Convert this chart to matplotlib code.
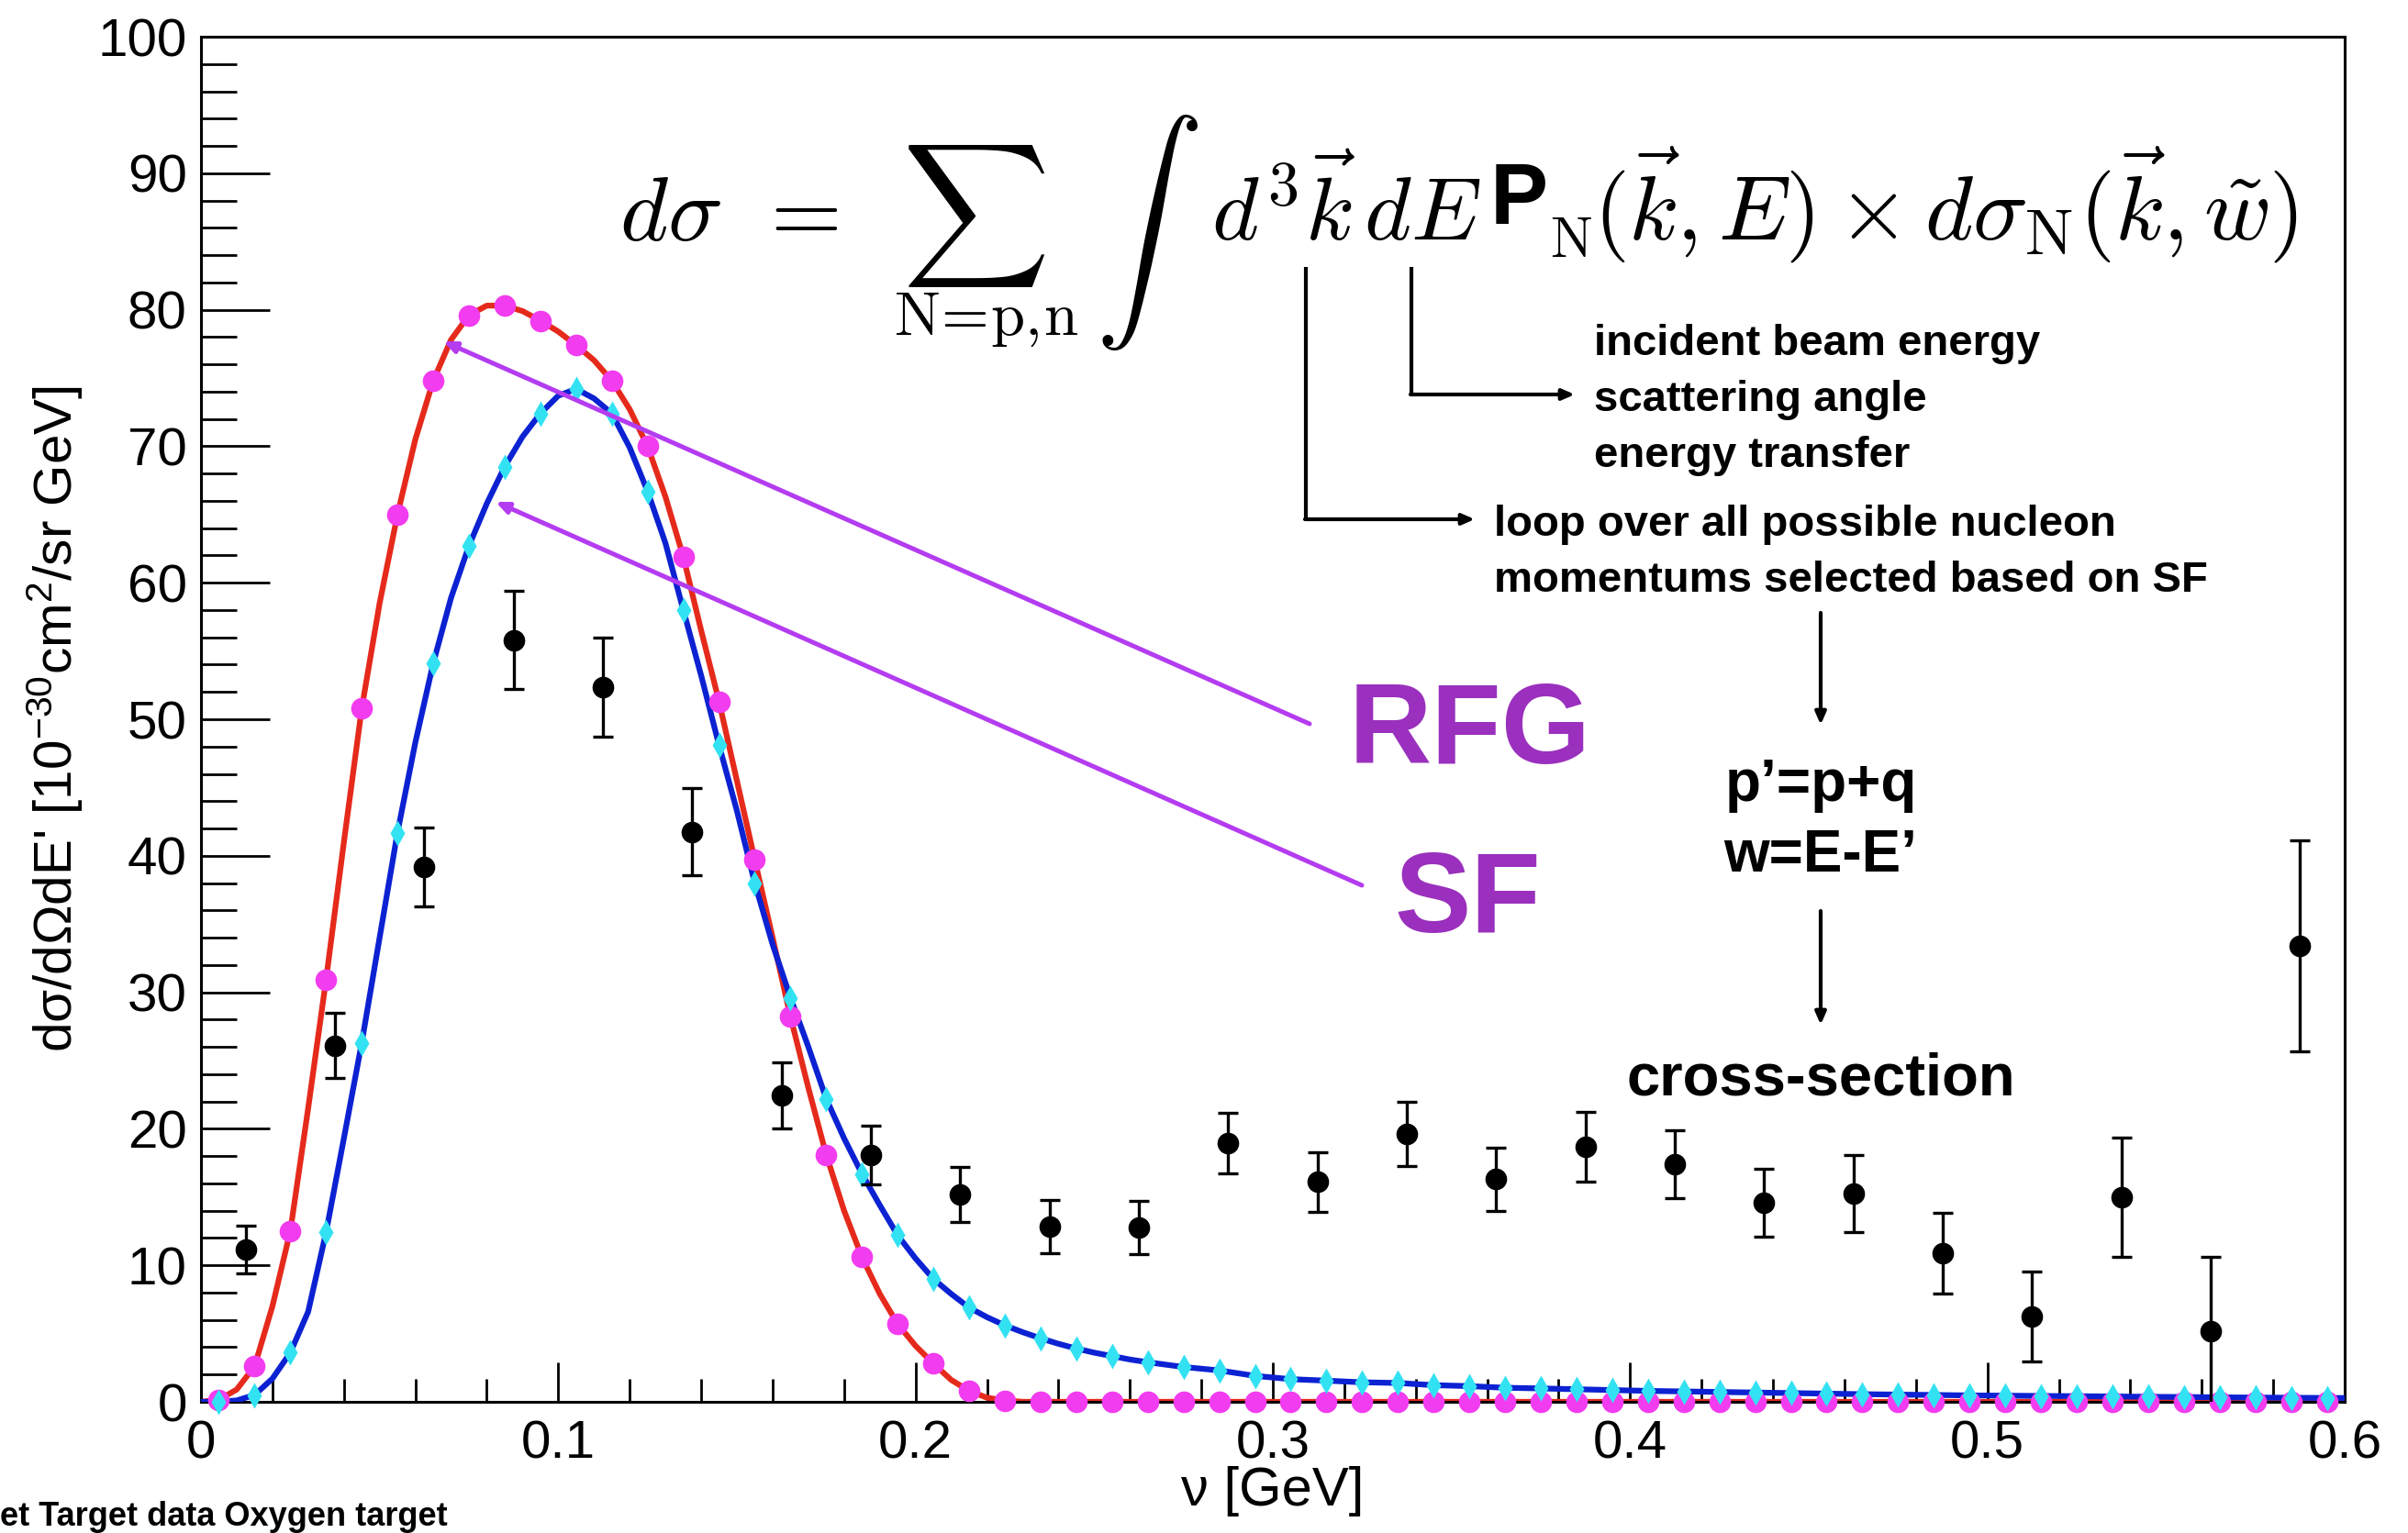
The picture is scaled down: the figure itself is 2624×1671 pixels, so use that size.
import matplotlib
matplotlib.use("Agg")
import matplotlib.pyplot as plt
import numpy as np

plt.rcParams["font.family"] = ["Liberation Sans", "DejaVu Sans"]
plt.rcParams["mathtext.fontset"] = "cm"

# ---- data ----
# curve grid: 0.005 steps over the peak, 0.01 steps (marker bins) in the tail
nu_curve = [0.000, 0.005, 0.010, 0.015, 0.020, 0.025, 0.030, 0.035, 0.040, 0.045,
            0.050, 0.055, 0.060, 0.065, 0.070, 0.075, 0.080, 0.085, 0.090, 0.095,
            0.100, 0.105, 0.110, 0.115, 0.120, 0.125, 0.130, 0.135, 0.140, 0.145,
            0.150, 0.155, 0.160, 0.165, 0.170, 0.175, 0.180, 0.185, 0.190, 0.195,
            0.200, 0.205, 0.210, 0.215, 0.220, 0.225, 0.230, 0.235, 0.240, 0.245,
            0.250, 0.255, 0.260, 0.265, 0.275, 0.285, 0.295, 0.305, 0.315, 0.325,
            0.335, 0.345, 0.355, 0.365, 0.375, 0.385, 0.395, 0.405, 0.415, 0.425,
            0.435, 0.445, 0.455, 0.465, 0.475, 0.485, 0.495, 0.505, 0.515, 0.525,
            0.535, 0.545, 0.555, 0.565, 0.575, 0.585, 0.595, 0.600]

rfg_curve = [0.0, 0.15, 0.9, 2.6, 7.0, 12.5, 21.5, 30.9, 41.0, 50.8,
             58.5, 65.0, 70.5, 74.8, 77.8, 79.6, 80.3, 80.3, 79.9, 79.2,
             78.4, 77.4, 76.3, 74.8, 72.7, 70.0, 66.3, 61.9, 56.5, 51.3,
             45.5, 39.7, 34.0, 28.2, 23.0, 18.1, 14.0, 10.6, 7.9, 5.7,
             4.1, 2.8, 1.6, 0.8, 0.3, 0.1, 0.0, 0.0, 0.0, 0.0,
             0.0, 0.0, 0.0, 0.0, 0.0, 0.0, 0.0, 0.0, 0.0, 0.0,
             0.0, 0.0, 0.0, 0.0, 0.0, 0.0, 0.0, 0.0, 0.0, 0.0,
             0.0, 0.0, 0.0, 0.0, 0.0, 0.0, 0.0, 0.0, 0.0, 0.0,
             0.0, 0.0, 0.0, 0.0, 0.0, 0.0, 0.0, 0.0]

sf_curve = [0.0, 0.0, 0.1, 0.5, 1.7, 3.6, 6.6, 12.4, 19.3, 26.3,
            34.0, 41.7, 48.3, 54.1, 58.9, 62.7, 65.8, 68.5, 70.7, 72.4,
            73.7, 74.2, 73.5, 72.4, 69.9, 66.7, 62.9, 58.0, 53.2, 48.1,
            43.3, 38.0, 33.5, 29.6, 26.0, 22.2, 19.3, 16.7, 14.4, 12.2,
            10.5, 9.0, 7.9, 6.9, 6.2, 5.6, 5.1, 4.65, 4.25, 3.9,
            3.6, 3.35, 3.1, 2.9, 2.55, 2.3, 1.9, 1.66, 1.55, 1.43,
            1.38, 1.22, 1.15, 1.03, 0.98, 0.92, 0.86, 0.80, 0.76, 0.72,
            0.68, 0.64, 0.60, 0.56, 0.53, 0.50, 0.47, 0.45, 0.43, 0.41,
            0.39, 0.37, 0.35, 0.33, 0.31, 0.30, 0.28, 0.28]

data_nu = [0.0125, 0.0375, 0.0625, 0.0875, 0.1125, 0.1375, 0.1625, 0.1875,
           0.2125, 0.2375, 0.2625, 0.2875, 0.3125, 0.3375, 0.3625, 0.3875,
           0.4125, 0.4375, 0.4625, 0.4875, 0.5125, 0.5375, 0.5625, 0.5875]
data_val = [11.15, 26.1, 39.2, 55.8, 52.35, 41.75, 22.45, 18.1,
            15.2, 12.85, 12.8, 18.95, 16.1, 19.6, 16.3, 18.7,
            17.4, 14.6, 15.25, 10.9, 6.25, 15.0, 5.15, 33.4]
data_err = [1.75, 2.4, 2.9, 3.6, 3.6, 3.2, 2.4, 2.15,
            2.0, 1.95, 1.95, 2.2, 2.2, 2.35, 2.3, 2.55,
            2.5, 2.5, 2.85, 2.95, 3.3, 4.35, 5.5, 7.7]

x_ticks = [0, 0.1, 0.2, 0.3, 0.4, 0.5, 0.6]
x_tick_labels = ["0", "0.1", "0.2", "0.3", "0.4", "0.5", "0.6"]
y_ticks = [0, 10, 20, 30, 40, 50, 60, 70, 80, 90, 100]

nu_curve = np.array(nu_curve)
rfg_curve = np.array(rfg_curve)
sf_curve = np.array(sf_curve)
# markers sit on the bin centres 0.005 + 0.01 k
on_bin = np.isclose(np.round(nu_curve * 1000) % 10, 5)

W, H = 2624, 1671
fig = plt.figure(figsize=(W / 100, H / 100), dpi=100)
ax = fig.add_axes([219 / W, (H - 1528) / H, 2336 / W, 1488 / H])

ax.plot(nu_curve, rfg_curve, color="#e52a1c", lw=4.5, zorder=2)
ax.plot(nu_curve, sf_curve, color="#0c22d2", lw=4.5, zorder=3)
ax.plot(nu_curve[on_bin], rfg_curve[on_bin], "o", color="#f23cef", ms=17,
        mec="none", zorder=4, clip_on=False)
ax.plot(nu_curve[on_bin], sf_curve[on_bin], "d", color="#33e2f2", ms=14,
        mec="none", zorder=5, clip_on=False)
ax.errorbar(data_nu, data_val, yerr=data_err, fmt="o", color="k", ms=16,
            elinewidth=2.4, capsize=8, capthick=2.4, zorder=6)

ax.set_xlim(0, 0.6)
ax.set_ylim(0, 100)
ax.set_xticks(x_ticks)
ax.set_xticklabels(x_tick_labels)
ax.set_xticks(np.arange(0, 0.6001, 0.02), minor=True)
ax.set_yticks(y_ticks)
ax.set_yticks(np.arange(0, 100.1, 2), minor=True)
ax.tick_params(axis="both", which="both", direction="in", top=False, right=False,
               width=2, labelsize=42)
ax.tick_params(axis="y", which="major", length=54, pad=11)
ax.tick_params(axis="y", which="minor", length=28)
ax.tick_params(axis="x", which="major", length=31, pad=14)
ax.tick_params(axis="x", which="minor", length=18)
for s in ax.spines.values():
    s.set_linewidth(2.2)

ax.set_xlabel("ν [GeV]", fontsize=43)
ax.xaxis.set_label_coords(0.5, -0.047)
ax.set_ylabel("dσ/dΩdE' [10$\\mathregular{^{-30}}$cm$\\mathregular{^{2}}$/sr GeV]",
              fontsize=42)
ax.yaxis.set_label_coords(-0.054, 0.5)

# ---- overlay in pixel coordinates for the annotations ----
ov = fig.add_axes([0, 0, 1, 1], facecolor="none")
ov.set_xlim(0, W)
ov.set_ylim(H, 0)
ov.axis("off")

# formula
ov.text(675, 262, r"$d\sigma$", fontsize=72, va="baseline")
ov.text(822, 262, r"$=$", fontsize=72, va="baseline")
ov.text(1061, 236, r"$\sum$", fontsize=80, ha="center", va="center")
ov.text(974, 365, r"$\mathrm{N\!=\!p,\!n}$", fontsize=48, va="baseline")
ov.text(1250, 253, r"$\int$", fontsize=84, ha="center", va="center")
ov.text(1320, 262, r"$d^3\vec{k}\,dE$", fontsize=70, va="baseline")
ov.text(1624, 244, "P", fontsize=68, fontweight="bold", va="baseline")
ov.text(1689, 280, r"$\mathrm{N}$", fontsize=44, va="baseline")
ov.text(1736, 262, r"$(\vec{k},E)\times d\sigma_{\mathrm{N}}(\vec{k},\tilde{w})$",
        fontsize=72, va="baseline")

# connector lines and arrows
blk = dict(arrowstyle="-|>,head_length=0.8,head_width=0.35", color="k", lw=3,
           shrinkA=0, shrinkB=0)
ov.plot([1423, 1423], [291, 566], color="k", lw=3, solid_capstyle="butt")
ov.annotate("", xy=(1607, 566), xytext=(1422, 566), arrowprops=blk)
ov.plot([1538, 1538], [291, 430], color="k", lw=3, solid_capstyle="butt")
ov.annotate("", xy=(1716, 430), xytext=(1537, 430), arrowprops=blk)
ov.annotate("", xy=(1984, 790), xytext=(1984, 668), arrowprops=blk)
ov.annotate("", xy=(1984, 1117), xytext=(1984, 993), arrowprops=blk)

note = dict(fontsize=34, fontweight="bold", va="baseline")
ov.text(1737, 387, "incident beam energy", **note)
ov.text(1737, 448, "scattering angle", **note)
ov.text(1737, 509, "energy transfer", **note)
ov.text(1628, 584, "loop over all possible nucleon", **note)
ov.text(1628, 645, "momentums selected based on SF", **note)
ov.text(1984, 873, "p\u2019=p+q", fontsize=46, fontweight="bold", ha="center",
        va="baseline")
ov.text(1984, 950, "w=E-E\u2019", fontsize=46, fontweight="bold", ha="center",
        va="baseline")
ov.text(1984, 1194, "cross-section", fontsize=47, fontweight="bold",
        ha="center", va="baseline")

# RFG / SF labels with arrows
purple = "#9a30bd"
ov.text(1470, 832, "RFG", fontsize=90, fontweight="bold", color=purple,
        va="baseline")
ov.text(1519, 1016, "SF", fontsize=90, fontweight="bold", color=purple,
        va="baseline")
pur = dict(arrowstyle="-|>,head_length=0.8,head_width=0.35", color="#b43cf0",
           lw=3.6, shrinkA=0, shrinkB=0)
ov.annotate("", xy=(483, 372), xytext=(1427, 789), arrowprops=pur)
ov.annotate("", xy=(540, 547), xytext=(1484, 965), arrowprops=pur)

# cropped slide text at the bottom left
ov.text(0, 1663, "et Target data Oxygen target", fontsize=26,
        fontweight="bold", va="baseline")

fig.savefig("out.png", dpi=100)
